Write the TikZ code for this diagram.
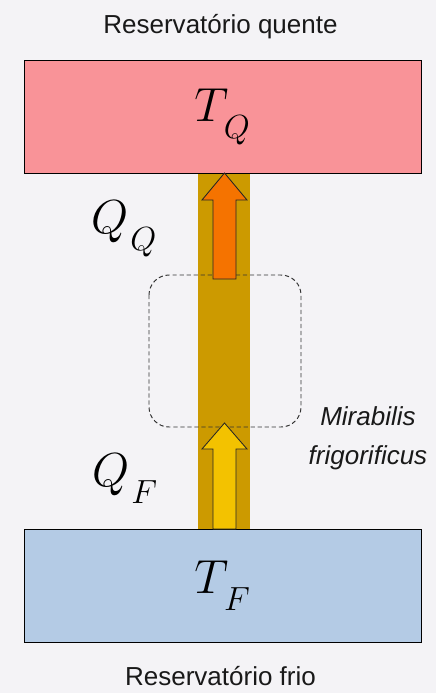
\RequirePackage{fix-cm}
\documentclass[tikz,border=0pt]{standalone}
\usepackage{fontspec}
\usepackage{tikz}
\newfontfamily\labelfont{Liberation Sans}

\definecolor{bgcol}{HTML}{F4F3F6}
\definecolor{hotcol}{HTML}{F99398}
\definecolor{coldcol}{HTML}{B4CBE5}
\definecolor{barcol}{HTML}{CC9A00}
\definecolor{qqcol}{HTML}{F57300}
\definecolor{qfcol}{HTML}{F3C200}

\newcommand{\lowsub}[2]{#1_{\kern1.5pt\lower7pt\hbox{$\scriptstyle #2$}}}

\begin{document}
\begin{tikzpicture}[x=0.025cm, y=-0.025cm,
    reservoir/.style={draw=black, line width=0.6pt, minimum width=9.925cm, minimum height=2.825cm, inner sep=0pt, font=\fontsize{34}{40}\selectfont},
    caption/.style={font=\labelfont\fontsize{18.5}{20}\selectfont, text=black!90, anchor=base},
    heatlabel/.style={font=\fontsize{34}{40}\selectfont, inner sep=0pt},
    heatarrow/.style={draw=black!85, line width=0.6pt}]

    % Define positions
    \def\barL{198}
    \def\barR{250}
    \def\mid{224.5}

    % Background
    \fill[bgcol] (0,0) rectangle (436,693);
    \useasboundingbox (0,0) rectangle (436,693);

    % =========================================================================
    % Heat channel
    % =========================================================================
    \fill[barcol] (\barL,173) rectangle (\barR,529);

    % Machine boundary
    \draw[black!80, line width=0.7pt, dash pattern=on 3pt off 2pt, rounded corners=0.5cm]
        (149,275) rectangle (301,427);

    % =========================================================================
    % Reservoirs
    % =========================================================================
    \node[reservoir, fill=hotcol] (hot) at (222.5,117) {$\lowsub{T}{Q}$};
    \node[reservoir, fill=coldcol] (cold) at (222.5,586) {$\lowsub{T}{F}$};

    \node[caption] (hotname) at (220.5,33) {Reservatório quente};
    \node[caption] (coldname) at (220.5,685) {Reservatório frio};

    % =========================================================================
    % Heat arrows
    % =========================================================================
    \filldraw[heatarrow, fill=qqcol] (213,279) -- (213,200) -- (202,200) -- (\mid,173)
        -- (247,200) -- (236,200) -- (236,279) -- cycle;
    \filldraw[heatarrow, fill=qfcol] (213,529) -- (213,449) -- (202,449) -- (\mid,423)
        -- (247,449) -- (236,449) -- (236,529) -- cycle;

    \node[heatlabel] (qq) at (124,229) {$\lowsub{Q}{Q}$};
    \node[heatlabel] (qf) at (125,479) {$\lowsub{Q}{F}$};

    % Machine name
    \node[caption, anchor=center, align=center, font=\labelfont\itshape\fontsize{18.5}{28}\selectfont]
        (machine) at (368,438) {Mirabilis\\frigorificus};

\end{tikzpicture}
\end{document}
